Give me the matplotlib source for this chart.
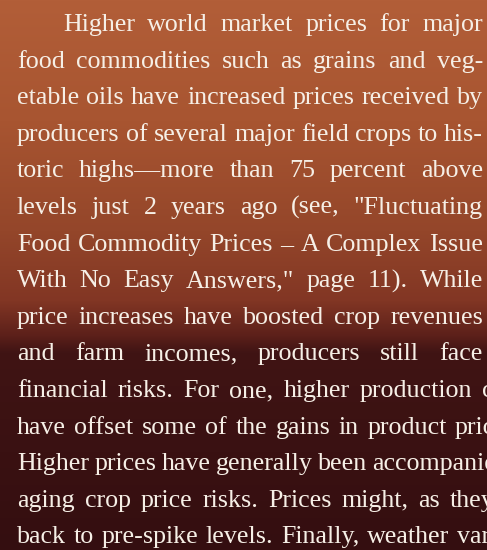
import numpy as np
import matplotlib
matplotlib.use("Agg")
from matplotlib import pyplot as plt

# paragraph text, one entry per printed line
lines = [
    "Higher world market prices for major",
    "food commodities such as grains and veg-",
    "etable oils have increased prices received by",
    "producers of several major field crops to his-",
    "toric highs\u2014more than 75 percent above",
    "levels just 2 years ago (see, \"Fluctuating",
    "Food Commodity Prices \u2013 A Complex Issue",
    "With No Easy Answers,\" page 11). While",
    "price increases have boosted crop revenues",
    "and farm incomes, producers still face",
    "financial risks. For one, higher production costs",
    "have offset some of the gains in product prices.",
    "Higher prices have generally been accompanied",
    "aging crop price risks. Prices might, as they",
    "back to pre-spike levels. Finally, weather variability",
]
# lines cut by the right edge: where the last word starts
cut_start = {10: 482, 11: 455, 12: 369, 13: 450, 14: 457}

# background colour stops (y pixel, rgb)
bg_y = [0, 120, 230, 300, 335, 352, 550]
bg_rgb = [(178, 94, 56), (168, 85, 49), (148, 70, 42), (130, 54, 36),
          (92, 32, 26), (64, 20, 20), (52, 14, 16)]

W, H = 487, 550
left, right, indent = 17, 483, 63
base0, lead = 31, 36.6
fs = 18.75
fam = ["Liberation Serif", "DejaVu Serif"]
txt_color = "#f6efe6"

fig = plt.figure(figsize=(W / 100, H / 100), dpi=100)
ax = fig.add_axes([0, 0, 1, 1])
ax.set_xlim(0, W)
ax.set_ylim(H, 0)
ax.axis("off")

ys = np.arange(H)
rgb = np.array(bg_rgb) / 255.0
grad = np.stack([np.interp(ys, bg_y, rgb[:, k]) for k in range(3)], axis=-1)
ax.imshow(grad[:, None, :], extent=(0, W, H, 0), aspect="auto", zorder=0)

renderer = fig.canvas.get_renderer()


def text_width(s):
    t = ax.text(0, 0, s, fontsize=fs, family=fam)
    w = t.get_window_extent(renderer).width
    t.remove()
    return w


min_gap = 0.2 * fs * 100 / 72
for i, line in enumerate(lines):
    words = line.split()
    y = base0 + i * lead
    x0 = indent if i == 0 else left
    widths = [text_width(w) for w in words]
    if i in cut_start:
        # last word runs off the right edge
        gap = (cut_start[i] - x0 - sum(widths[:-1])) / (len(words) - 1)
        gap = max(gap, min_gap)
    else:
        gap = (right - x0 - sum(widths)) / (len(words) - 1)
    x = x0
    for w, wd in zip(words, widths):
        ax.text(x, y, w, fontsize=fs, family=fam, color=txt_color,
                ha="left", va="baseline", zorder=2)
        x += wd + gap

fig.savefig("out.png", dpi=100)
